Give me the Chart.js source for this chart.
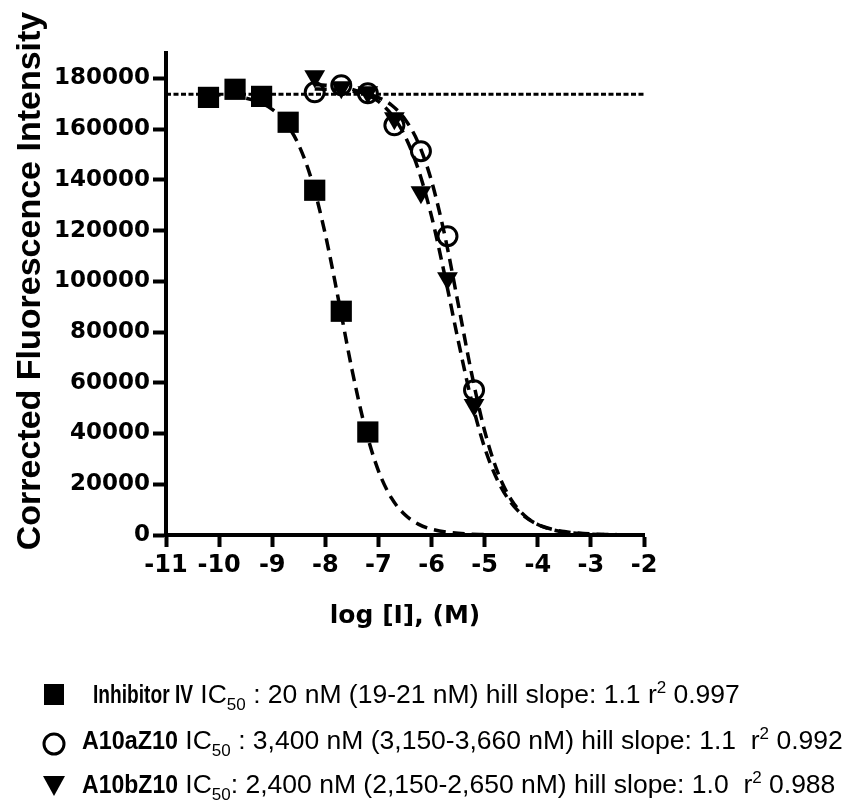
<!DOCTYPE html>
<html>
<head>
<meta charset="utf-8">
<script src="https://cdn.jsdelivr.net/npm/chart.js@4.4.0/dist/chart.umd.min.js"></script>
<style>
  html, body { margin: 0; padding: 0; background: #fff; }
  canvas { display: block; }
</style>
</head>
<body>
<canvas id="doseChart" width="855" height="808"></canvas>
<script>
// measured points, log [I] (M) vs corrected fluorescence
const inhibitorX = [-10.2, -9.7, -9.2, -8.7, -8.2, -7.7, -7.2];
const inhibitorY = [172500, 175700, 172900, 162700, 135900, 88200, 40600];
const a10aX = [-8.2, -7.7, -7.2, -6.7, -6.2, -5.7, -5.2];
const a10aY = [174500, 177300, 174100, 161500, 151300, 117800, 57100];
const a10bX = [-8.2, -7.7, -7.2, -6.7, -6.2, -5.7, -5.2];
const a10bY = [180800, 176500, 174500, 164300, 135100, 101200, 51200];

// fitted curves at these x values
const inhibitorCurveX = [-10.2, -10, -9.75, -9.5, -9.25, -9, -8.75, -8.5, -8.25, -8, -7.75, -7.5, -7.25, -7, -6.75, -6.5, -6.25, -6, -5.5, -5, -4.5, -4, -3, -2];
const inhibitorCurveY = [173650, 173500, 173000, 172200, 170600, 167800, 162600, 153700, 139400, 118500, 92500, 65400, 42200, 25300, 14400, 7950, 4300, 2300, 660, 190, 50, 15, 0, 0];
const a10CurveX = [-8.2, -8, -7.75, -7.5, -7.25, -7, -6.75, -6.5, -6.25, -6, -5.75, -5.5, -5.25, -5, -4.75, -4.5, -4.25, -4, -3.75, -3.5, -3, -2.5, -2];
const a10aCurveY = [175800, 175700, 175450, 175000, 174100, 172400, 169400, 163900, 154600, 139500, 118000, 91300, 64100, 41000, 24500, 13900, 7700, 4150, 2230, 1190, 340, 95, 30];
const a10bCurveY = [177500, 177300, 176700, 175700, 173900, 170900, 165700, 157300, 144200, 125600, 102200, 76800, 53200, 34400, 21200, 12600, 7300, 4170, 2370, 1340, 430, 135, 45];

// top plateau reference line
const plateauX = [-11, -2];
const plateauY = [173700, 173700];

const xTickValues = [-11, -10, -9, -8, -7, -6, -5, -4, -3, -2];
const yTickValues = [0, 20000, 40000, 60000, 80000, 100000, 120000, 140000, 160000, 180000];

const seriesNames = ["Inhibitor IV", "A10aZ10", "A10bZ10"];
const ic50Text = [" : 20 nM (19-21 nM) hill slope: 1.1 r", " : 3,400 nM (3,150-3,660 nM) hill slope: 1.1  r", ": 2,400 nM (2,150-2,650 nM) hill slope: 1.0  r"];
const r2Text = [" 0.997", " 0.992", " 0.988"];

const xTitle = "log [I], (M)";
const yTitle = "Corrected Fluorescence Intensity";

function toPoints(xs, ys) {
    return xs.map((x, i) => ({ x: x, y: ys[i] }));
}

function curveSet(xs, ys) {
    return {
        data: toPoints(xs, ys),
        showLine: true,
        borderColor: "#000",
        borderWidth: 3.5,
        borderDash: [12, 7],
        pointRadius: 0,
        cubicInterpolationMode: "monotone",
        order: 5
    };
}

const tickFont = { family: "'DejaVu Sans', sans-serif", weight: "bold" };

// draw text squeezed/stretched to a given width (the legend names are condensed)
function fitText(ctx, text, x, y, width) {
    const natural = ctx.measureText(text).width;
    ctx.save();
    ctx.translate(x, y);
    ctx.scale(width / natural, 1);
    ctx.fillText(text, 0, 0);
    ctx.restore();
    return width;
}

// titles and the rich-text legend under the plot
const textPlugin = {
    id: "textPlugin",
    afterDraw(chart) {
        const ctx = chart.ctx;
        const area = chart.chartArea;
        ctx.save();
        ctx.fillStyle = "#000";
        ctx.strokeStyle = "#000";

        ctx.font = "bold 25px 'DejaVu Sans', sans-serif";
        ctx.textAlign = "center";
        ctx.textBaseline = "alphabetic";
        ctx.fillText(xTitle, (area.left + area.right) / 2, 623);

        ctx.save();
        ctx.translate(40, 281);
        ctx.rotate(-Math.PI / 2);
        ctx.font = "bold 34px 'Liberation Sans', Arial, sans-serif";
        ctx.fillText(yTitle, 0, 0);
        ctx.restore();

        // legend markers
        ctx.fillRect(44, 684, 20, 21);
        ctx.lineWidth = 3;
        ctx.beginPath();
        ctx.arc(54, 744, 10, 0, Math.PI * 2);
        ctx.stroke();
        ctx.beginPath();
        ctx.moveTo(43, 776);
        ctx.lineTo(65, 776);
        ctx.lineTo(54, 796);
        ctx.closePath();
        ctx.fill();

        // legend text
        ctx.textAlign = "left";
        const rows = [
            { x: 93, y: 703, nameWidth: 100 },
            { x: 82, y: 749, nameWidth: 96 },
            { x: 82, y: 793, nameWidth: 96 }
        ];
        const bold = "bold 25px 'Liberation Sans', Arial, sans-serif";
        const regular = "26.5px 'Liberation Sans', Arial, sans-serif";
        const small = "17px 'Liberation Sans', Arial, sans-serif";
        rows.forEach((row, i) => {
            ctx.font = bold;
            let x = row.x + fitText(ctx, seriesNames[i], row.x, row.y, row.nameWidth);
            const segs = [
                [" IC", regular, 0],
                ["50", small, 7],
                [ic50Text[i], regular, 0],
                ["2", small, -10],
                [r2Text[i], regular, 0]
            ];
            segs.forEach(([text, font, dy]) => {
                ctx.font = font;
                ctx.fillText(text, x, row.y + dy);
                x += ctx.measureText(text).width;
            });
        });
        ctx.restore();
    }
};

new Chart("doseChart", {
    type: "scatter",
    data: {
        datasets: [
            {
                data: toPoints(inhibitorX, inhibitorY),
                pointStyle: "rect",
                pointRadius: 15,
                backgroundColor: "#000",
                borderColor: "#000",
                borderWidth: 0,
                order: 1
            },
            {
                data: toPoints(a10aX, a10aY),
                pointStyle: "circle",
                pointRadius: 9.5,
                backgroundColor: "rgba(0,0,0,0)",
                borderColor: "#000",
                borderWidth: 3,
                order: 2
            },
            {
                data: toPoints(a10bX, a10bY),
                pointStyle: "triangle",
                pointRotation: 180,
                pointRadius: 12,
                backgroundColor: "#000",
                borderColor: "#000",
                borderWidth: 0,
                order: 1
            },
            curveSet(inhibitorCurveX, inhibitorCurveY),
            curveSet(a10CurveX, a10aCurveY),
            curveSet(a10CurveX, a10bCurveY),
            {
                data: toPoints(plateauX, plateauY),
                showLine: true,
                borderColor: "#000",
                borderWidth: 3,
                borderDash: [5, 2.5],
                pointRadius: 0,
                order: 6
            }
        ]
    },
    options: {
        responsive: false,
        animation: false,
        layout: { padding: { top: 53, right: 211, bottom: 0, left: 0 } },
        plugins: {
            legend: { display: false },
            tooltip: { enabled: false }
        },
        scales: {
            x: {
                type: "linear",
                min: -11,
                max: -2,
                afterBuildTicks: scale => { scale.ticks = xTickValues.map(v => ({ value: v })); },
                afterFit: scale => { scale.height = 273; },
                border: { display: true, color: "#000", width: 4 },
                grid: { drawOnChartArea: false, drawTicks: true, tickLength: 12, tickWidth: 4, tickColor: "#000" },
                ticks: { color: "#000", font: Object.assign({ size: 24 }, tickFont), padding: 4, maxRotation: 0, callback: v => String(v) }
            },
            y: {
                type: "linear",
                min: 0,
                max: 190000,
                afterBuildTicks: scale => { scale.ticks = yTickValues.map(v => ({ value: v })); },
                afterFit: scale => { scale.width = 166; },
                border: { display: true, color: "#000", width: 4 },
                grid: { drawOnChartArea: false, drawTicks: true, tickLength: 13, tickWidth: 4, tickColor: "#000" },
                ticks: { color: "#000", font: Object.assign({ size: 23 }, tickFont), padding: 3, callback: v => String(v) }
            }
        }
    },
    plugins: [textPlugin]
});
</script>
</body>
</html>
